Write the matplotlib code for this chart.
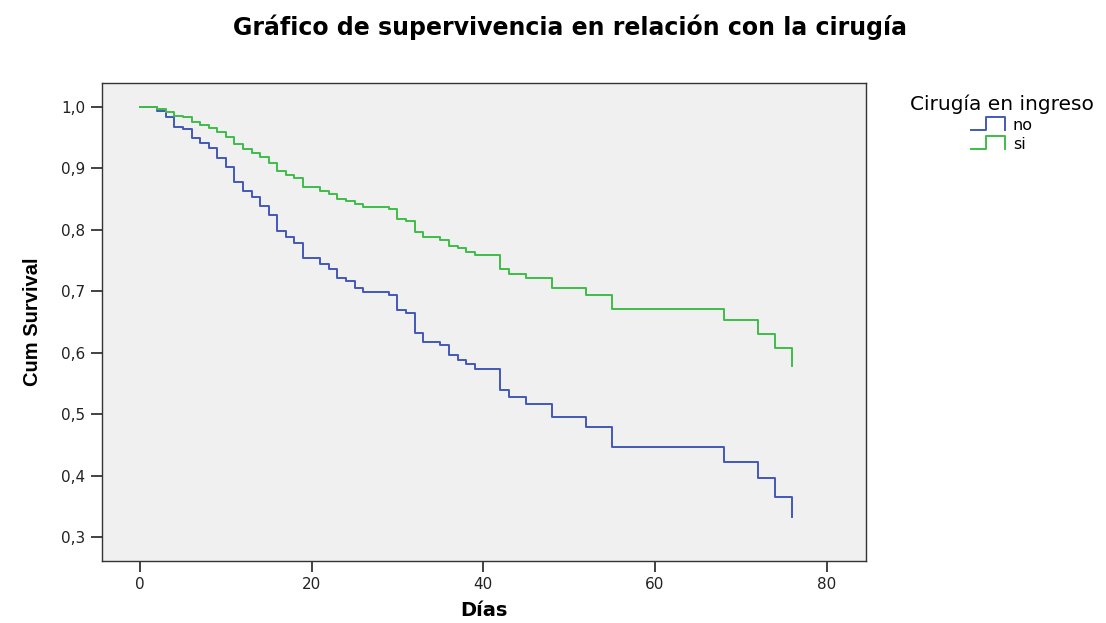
import matplotlib
matplotlib.use("Agg")
from matplotlib import pyplot as plt
from matplotlib.lines import Line2D
from matplotlib.legend_handler import HandlerBase
from matplotlib.ticker import FuncFormatter

# datos (tiempo en dias, supervivencia acumulada)
dias = [0, 2, 3, 4, 5, 6, 7, 8, 9, 10, 11, 12, 13, 14, 15, 16, 17, 18, 19, 21,
        22, 23, 24, 25, 26, 29, 30, 31, 32, 33, 35, 36, 37, 38, 39, 42, 43, 45,
        48, 52, 55, 68, 72, 74, 76]
surv_no = [1.0, 0.994, 0.983, 0.968, 0.964, 0.950, 0.941, 0.933, 0.917, 0.903,
           0.878, 0.863, 0.854, 0.839, 0.824, 0.798, 0.789, 0.779, 0.754, 0.744,
           0.737, 0.722, 0.716, 0.706, 0.699, 0.694, 0.669, 0.665, 0.632, 0.618,
           0.612, 0.597, 0.589, 0.581, 0.573, 0.539, 0.528, 0.517, 0.495, 0.479,
           0.446, 0.422, 0.397, 0.365, 0.332]
surv_si = [1.0, 0.996, 0.992, 0.985, 0.983, 0.976, 0.970, 0.965, 0.959, 0.951,
           0.939, 0.931, 0.925, 0.918, 0.909, 0.895, 0.889, 0.884, 0.870, 0.863,
           0.859, 0.850, 0.847, 0.842, 0.838, 0.834, 0.817, 0.815, 0.797, 0.788,
           0.783, 0.774, 0.770, 0.764, 0.759, 0.736, 0.729, 0.722, 0.706, 0.694,
           0.671, 0.653, 0.631, 0.607, 0.578]
grupos = ["no", "si"]
colores = ["#4358b8", "#3dbd48"]

plt.rcParams["font.family"] = ["DejaVu Sans"]


class StepHandler(HandlerBase):
    # icono en forma de escalon como en SPSS
    def create_artists(self, legend, orig_handle, xdescent, ydescent, width, height, fontsize, trans):
        x0 = -xdescent
        y0 = -ydescent
        xs = [x0, x0 + width * 0.45, x0 + width * 0.45, x0 + width, x0 + width]
        ys = [y0, y0, y0 + height * 1.1, y0 + height * 1.1, y0]
        ln = Line2D(xs, ys, color=orig_handle.get_color(), lw=1.4, transform=trans)
        return [ln]


fig = plt.figure(figsize=(11.06, 6.23), dpi=100)
ax = fig.add_axes([102 / 1106, 1 - 560.5 / 623, (866 - 102) / 1106, (560.5 - 83) / 623])
ax.set_facecolor("#f0f0f0")

lineas = []
for s, g, c in zip([surv_no, surv_si], grupos, colores):
    l, = ax.step(dias, s, where="post", color=c, lw=1.4, label=g)
    lineas.append(l)

ax.set_xlim(-4.43, 84.6)
ax.set_ylim(0.262, 1.039)
ax.set_xticks([0, 20, 40, 60, 80])
ax.set_yticks([0.3, 0.4, 0.5, 0.6, 0.7, 0.8, 0.9, 1.0])
ax.yaxis.set_major_formatter(FuncFormatter(lambda v, p: ("%.1f" % v).replace(".", ",")))
ax.tick_params(direction="out", length=8, width=1.2, labelsize=11, colors="#222222", pad=4)

for sp in ax.spines.values():
    sp.set_color("#333333")
    sp.set_linewidth(1.0)

ax.set_xlabel("Días", fontsize=14, fontweight="bold", labelpad=6)
ax.set_ylabel("Cum Survival", fontsize=14.5, fontweight="bold", labelpad=14,
              family=["Liberation Sans Narrow", "Liberation Sans", "DejaVu Sans"])

fig.text(570 / 1106, 1 - 27 / 623, "Gráfico de supervivencia en relación con la cirugía",
         ha="center", va="center", fontsize=17, fontweight="bold")

leg = fig.legend(lineas, grupos, title="Cirugía en ingreso", loc="upper center",
                 bbox_to_anchor=(1002 / 1106, 1 - 83 / 623), frameon=False,
                 fontsize=11.5, title_fontsize=14.5, handlelength=2.1,
                 handletextpad=0.5, labelspacing=0.25, borderpad=0.2,
                 handler_map={Line2D: StepHandler()})

fig.savefig("out.png", dpi=100)
